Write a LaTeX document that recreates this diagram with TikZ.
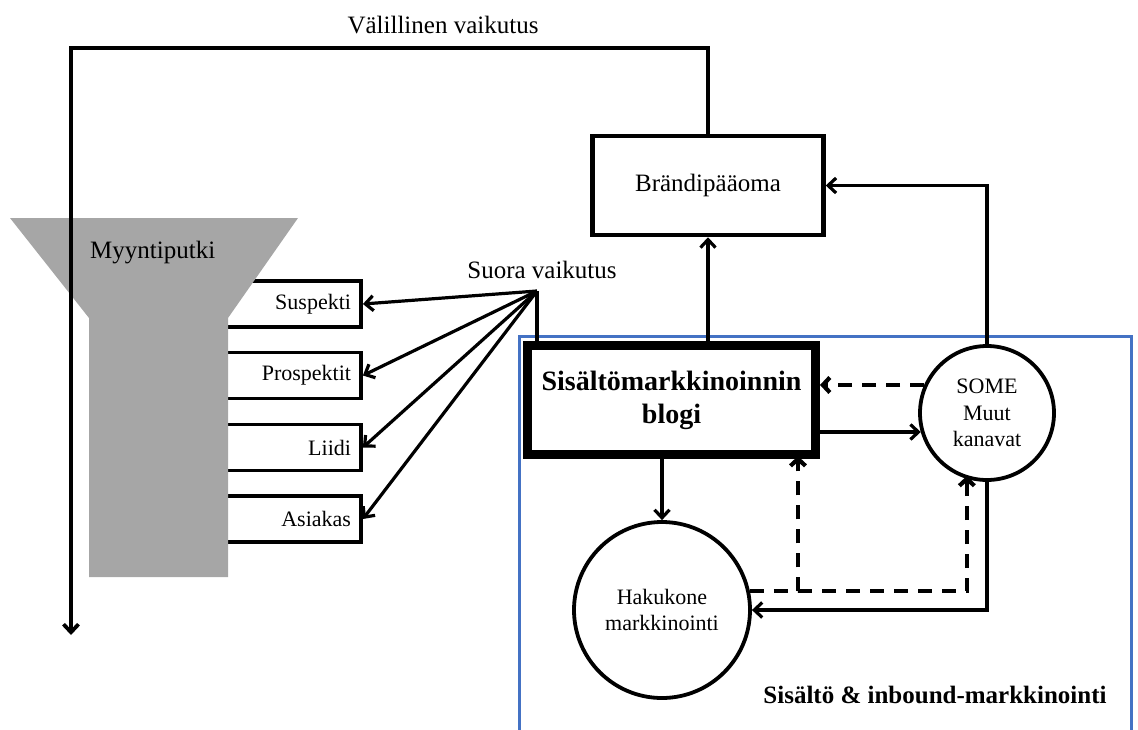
\documentclass[tikz,border=0pt]{standalone}
\usepackage{fontspec}
\setmainfont{Liberation Serif}
\usetikzlibrary{arrows.meta,calc}
\definecolor{funnelgray}{HTML}{A6A6A6}
\definecolor{frameblue}{HTML}{4472C4}
\begin{document}
\begin{tikzpicture}[x=1pt,y=-1pt,
  tip/.style={-{Straight Barb[length=8pt,width=15pt]}},
  conn/.style={line width=3.2pt,tip},
  dconn/.style={line width=4.2pt,dash pattern=on 14pt off 10pt,-{Straight Barb[length=7pt,width=15pt]}},
  txtL/.style={font=\fontsize{25}{29}\selectfont,inner sep=0pt},
  txtS/.style={font=\fontsize{22}{26.5}\selectfont},
  stagebox/.style={draw,line width=3.8pt,fill=white,minimum width=160pt,minimum height=46pt,
    text width=140pt,align=right,inner xsep=10pt,font=\fontsize{22}{26}\selectfont},
  roundnode/.style={draw,circle,line width=3.8pt,align=center,inner sep=0pt,txtS}]
\useasboundingbox (0,0) rectangle (1138,729);

% sales pipeline stages, partly hidden behind the funnel
\node[stagebox] (s1) at (281,304) {Suspekti};
\node[stagebox] (s2) at (281,375.5) {Prospektit};
\node[stagebox] (s3) at (281,447.5) {Liidi};
\node[stagebox] (s4) at (281,519) {Asiakas};

% funnel
\fill[funnelgray] (10,218) -- (298,218) -- (228,318) -- (228,577) -- (89,577) -- (89,318) -- cycle;
\node[txtL,anchor=west] (pipe) at (90,253) {Myyntiputki};

% content marketing area
\draw[frameblue,line width=3pt] (519,740) -- (519,336) -- (1131,336) -- (1131,740);
\node[draw,line width=9pt,minimum width=288pt,minimum height=109pt,align=center,
  font=\fontsize{28}{33}\bfseries\selectfont] (blog) at (671.5,400) {Sisältömarkkinoinnin\\blogi};
\node[roundnode,minimum size=134pt] (some) at (987,413) {SOME\\Muut\\kanavat};
\node[roundnode,minimum size=176pt] (haku) at (662,610) {Hakukone\\markkinointi};
\node[txtL,font=\fontsize{25}{29}\bfseries\selectfont] (area) at (935,695) {Sisältö \& inbound-markkinointi};

% brand equity
\node[draw,line width=4.5pt,minimum width=231pt,minimum height=99pt,txtL] (brand) at (708,185.5) {Brändipääoma};

% indirect effect
\node[txtL] (indlbl) at (443,25) {Välillinen vaikutus};
\coordinate (indTop) at (71,48);
\coordinate (indEnd) at (71,635);
\draw[line width=3.8pt,-{Straight Barb[length=8pt,width=15pt]}] (brand.north) |- (indTop) -- (indEnd);

% direct effect
\node[txtL] (dirlbl) at (542,270) {Suora vaikutus};
\coordinate (apex) at (537,291);
\draw[line width=3.2pt] (apex |- blog.north) -- (apex);
\foreach \s in {s1,s2,s3,s4}
  \draw[conn] (apex) -- (\s.east);

% links between channels
\draw[conn] (brand.south |- blog.north) -- (brand.south);
\draw[conn] (some.north) |- (brand.east);
\draw[conn] (blog.east |- some.196.5) -- (some.196.5);
\draw[dconn] (some.156) -- (blog.east |- some.156);
\draw[conn] (haku.north |- blog.south) -- (haku.north);
\draw[conn] (some.south) |- (haku.east);
\coordinate (bdash) at ([xshift=-22pt,yshift=3pt]blog.south east);
\coordinate (dA) at (haku.12 -| bdash);
\draw[dconn] (haku.12) -| (bdash);
\draw[dconn] (dA) -| ([yshift=3pt]some.253);
\end{tikzpicture}
\end{document}
